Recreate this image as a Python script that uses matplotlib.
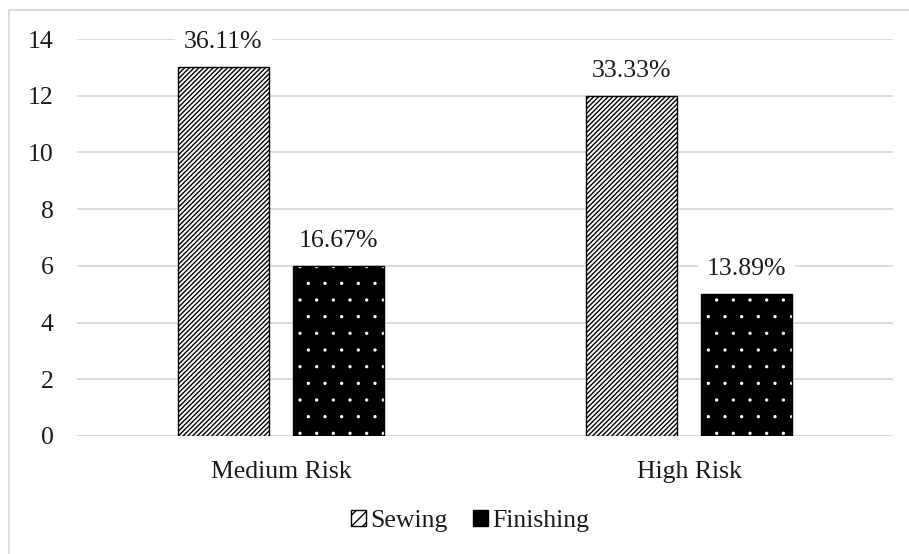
import matplotlib
matplotlib.use("Agg")
import matplotlib.pyplot as plt
from matplotlib.patches import Rectangle, Patch
import numpy as np

categories = ["Medium Risk", "High Risk"]
sewing = [13, 12]
finishing = [6, 5]
sewing_labels = ["36.11%", "33.33%"]
finishing_labels = ["16.67%", "13.89%"]
yticks = [0, 2, 4, 6, 8, 10, 12, 14]

plt.rcParams["font.family"] = ["Liberation Serif", "DejaVu Serif"]
plt.rcParams["hatch.linewidth"] = 1.0

fig = plt.figure(figsize=(9.09, 5.54), dpi=100)
ax = fig.add_axes([77 / 909, 1 - 436 / 554, 816 / 909, 397 / 554])

x = np.arange(len(categories))
w = 0.223
off = 0.141
grid_c = "#d9d9d9"
text_c = "#1a1a1a"

# Sewing: diagonal hatch on white
ax.bar(x - off, sewing, w, facecolor="white", edgecolor="black",
       hatch="///////", linewidth=1.0, zorder=3)

# Finishing: small white dots on black, then black outline on top
with plt.rc_context({"hatch.linewidth": 0.0}):
    ax.bar(x + off, finishing, w, facecolor="black", edgecolor="white",
           hatch=".", linewidth=0, zorder=3)
ax.bar(x + off, finishing, w, facecolor="none", edgecolor="black",
       linewidth=1.0, zorder=4)

fs = 18.5
for xi, v, lab in zip(x - off, sewing, sewing_labels):
    ax.annotate(lab, (xi, v), xytext=(0, 25), textcoords="offset pixels",
                ha="center", va="center", fontsize=fs, color=text_c, zorder=5,
                bbox=dict(boxstyle="square,pad=0.35", fc="white", ec="none"))
for xi, v, lab in zip(x + off, finishing, finishing_labels):
    ax.annotate(lab, (xi, v), xytext=(0, 25), textcoords="offset pixels",
                ha="center", va="center", fontsize=fs, color=text_c, zorder=5,
                bbox=dict(boxstyle="square,pad=0.35", fc="white", ec="none"))

ax.set_xlim(-0.5, 1.5)
ax.set_ylim(0, 14)
ax.set_yticks(yticks)
ax.set_yticklabels([str(t) for t in yticks], fontsize=fs, color=text_c)
ax.set_xticks(x)
ax.set_xticklabels(categories, fontsize=fs, color=text_c)
ax.tick_params(axis="both", length=0)
ax.tick_params(axis="y", pad=17)
ax.tick_params(axis="x", pad=18)
ax.yaxis.grid(True, color=grid_c, linewidth=1.3, zorder=0)
ax.set_axisbelow(True)
for s in ax.spines.values():
    s.set_visible(False)

handles = [Patch(facecolor="white", edgecolor="black", hatch="///", label="Sewing"),
           Patch(facecolor="black", edgecolor="black", label="Finishing")]
leg = fig.legend(handles=handles, loc="center", bbox_to_anchor=(470 / 909, 1 - 521 / 554),
                 ncol=2, frameon=False, fontsize=fs, handlelength=0.6, handleheight=0.6,
                 handletextpad=0.15, columnspacing=1.0)
for t in leg.get_texts():
    t.set_color(text_c)

# chart-area border
fig.patches.append(Rectangle((9 / 909, -0.05), 1.2, 1 - 10 / 554 + 0.05,
                             transform=fig.transFigure, fill=False,
                             edgecolor=grid_c, linewidth=1.3))

fig.savefig("out.png", dpi=100)
